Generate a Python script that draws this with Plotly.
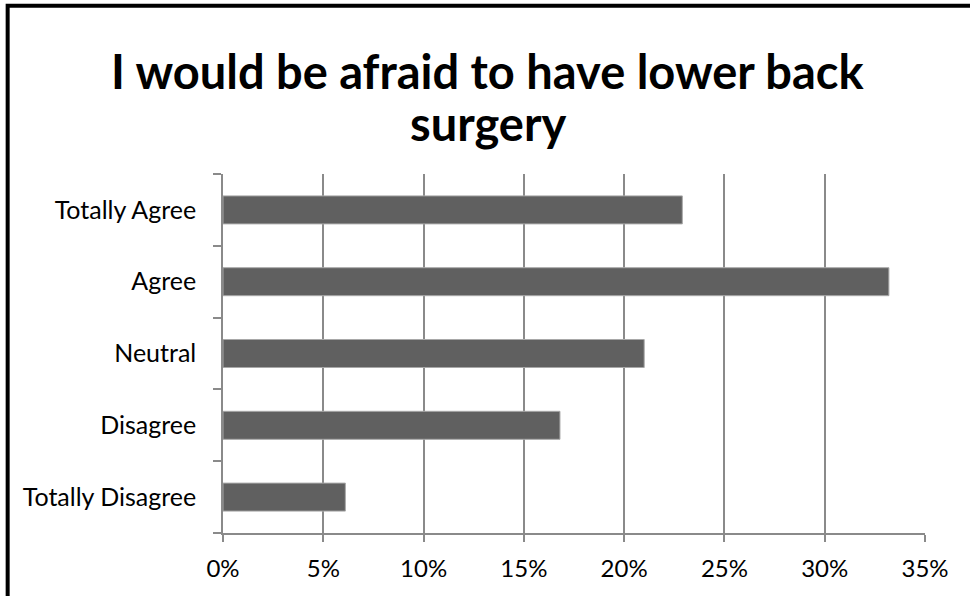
import plotly.graph_objects as go

# Survey responses (share of respondents)
categories = ["Totally Agree", "Agree", "Neutral", "Disagree", "Totally Disagree"]
shares = [0.229, 0.332, 0.210, 0.168, 0.061]
x_ticks = [0, 0.05, 0.10, 0.15, 0.20, 0.25, 0.30, 0.35]
x_tick_labels = ["0%", "5%", "10%", "15%", "20%", "25%", "30%", "35%"]

title_lines = ["I would be afraid to have lower back", "surgery"]

W, H = 970, 596
L, R, T, B = 222.5, 45, 174, 62.7
plot_w = W - L - R
plot_h = H - T - B

GRID = "#8a8a8a"
FONT = "Lato"

fig = go.Figure(
    go.Bar(
        x=shares,
        y=categories,
        orientation="h",
        marker=dict(color="#606060", line=dict(color="#a8a8a8", width=1)),
        width=0.39,
    )
)

# outer chart frame (thick black), only partly within the page
px2x = lambda px: (px - L) / plot_w
px2y = lambda py: (H - B - py) / plot_h
fig.add_shape(
    type="rect", xref="paper", yref="paper",
    x0=px2x(7), x1=px2x(1100), y0=px2y(900), y1=px2y(5.5),
    line=dict(color="black", width=4), fillcolor="rgba(0,0,0,0)", layer="above",
)

# two-line title with tight line spacing
for text, cy in zip(title_lines, [71, 123]):
    fig.add_annotation(
        text=text, xref="paper", yref="paper",
        x=px2x(488), y=px2y(cy), xanchor="center", yanchor="middle",
        showarrow=False,
        font=dict(family=FONT, size=47, color="black", weight="bold"),
    )

fig.update_layout(
    width=W, height=H,
    margin=dict(l=L, r=R, t=T, b=B, pad=0),
    paper_bgcolor="white", plot_bgcolor="white",
    showlegend=False,
    xaxis=dict(
        range=[0, 0.35], tickvals=x_ticks, ticktext=x_tick_labels,
        showgrid=True, gridcolor=GRID, gridwidth=1.5,
        showline=True, linecolor=GRID, linewidth=1.5,
        ticks="outside", ticklen=7, tickcolor=GRID, tickwidth=1.5,
        tickfont=dict(family=FONT, size=24, color="black"),
        ticklabelstandoff=6,
        zeroline=False, fixedrange=True,
    ),
    yaxis=dict(
        categoryorder="array", categoryarray=categories[::-1],
        showgrid=False, showline=True, linecolor=GRID, linewidth=1.5,
        ticks="outside", ticklen=8, tickcolor=GRID, tickwidth=1.5,
        tickson="boundaries",
        tickfont=dict(family=FONT, size=25, color="black"),
        ticklabelstandoff=20,
        zeroline=False, fixedrange=True,
    ),
)

fig.write_html("out.html")
